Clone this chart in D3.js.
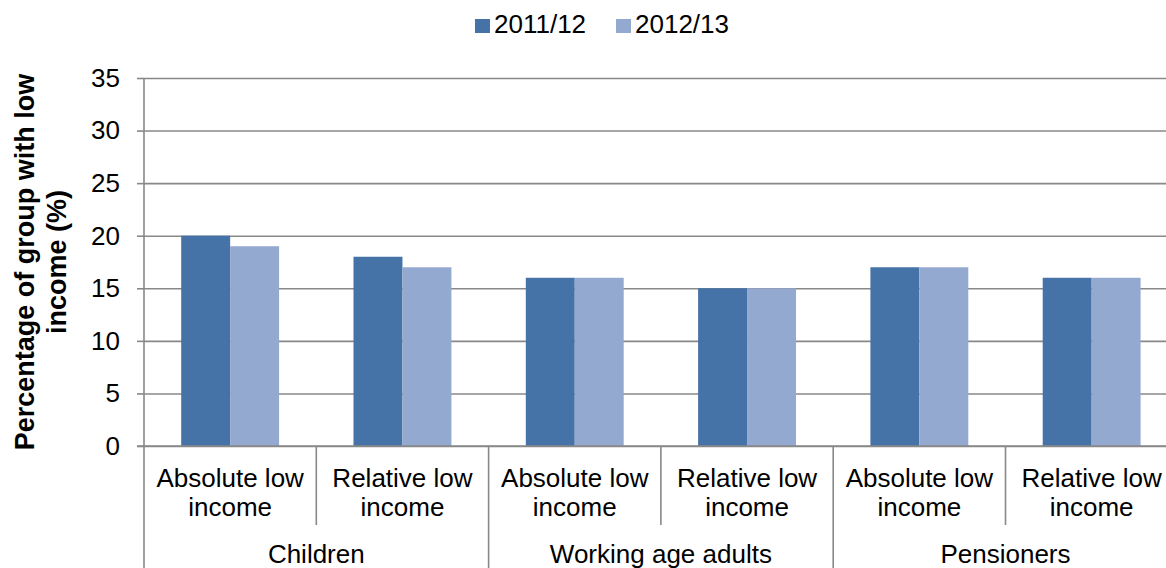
<!DOCTYPE html>
<html>
<head>
<meta charset="utf-8">
<script src="https://cdn.jsdelivr.net/npm/d3@7"></script>
<style>
  html, body { margin: 0; padding: 0; background: #fff; }
  svg { display: block; font-family: 'Liberation Sans', Arial, sans-serif; }
  .domain { display: none; }
</style>
</head>
<body>
<svg id="chart"></svg>
<script>
// data
const groups = ['Children', 'Working age adults', 'Pensioners']
const measures = ['Absolute low income', 'Relative low income']
const seriesNames = ['2011/12', '2012/13']
const values2011 = [20, 18, 16, 15, 17, 16]
const values2012 = [19, 17, 16, 15, 17, 16]
const yTicks = [0, 5, 10, 15, 20, 25, 30, 35]
const colors = ['#4573A7', '#94A9CF']

const width = 1166
const height = 568
const svg = d3.select('#chart').attr('width', width).attr('height', height)

const margin = { top: 78, left: 144 }
const plotBottom = 446
const step = 172.3
const cats = []
groups.forEach(g => measures.forEach(m => cats.push({ group: g, measure: m, key: g + '|' + m })))
cats.forEach((c, i) => { c.vals = [values2011[i], values2012[i]] })

const x0 = d3.scaleBand().domain(cats.map(c => c.key)).range([margin.left, margin.left + step * cats.length]).padding(0)
const x1 = d3.scaleBand().domain(seriesNames).range([0, x0.bandwidth()]).paddingInner(0).paddingOuter(0.76)
const y = d3.scaleLinear().domain([0, 35]).range([plotBottom, margin.top])

// gridlines
svg.append('g')
  .attr('transform', `translate(${margin.left},0)`)
  .call(d3.axisLeft(y).tickValues(yTicks).tickSize(-(width - margin.left)).tickFormat(''))
  .call(g => g.selectAll('.tick line').attr('stroke', '#888').attr('stroke-width', 1.6))

// y axis
svg.append('g')
  .attr('transform', `translate(${margin.left},0)`)
  .call(d3.axisLeft(y).tickValues(yTicks).tickSize(7).tickPadding(17))
  .call(g => g.selectAll('.tick line').attr('stroke', '#888').attr('stroke-width', 1.6))
  .call(g => g.selectAll('.tick text').attr('font-size', 26).attr('fill', '#000').attr('font-family', "'Liberation Sans', Arial, sans-serif"))

svg.append('line')
  .attr('x1', margin.left).attr('x2', margin.left)
  .attr('y1', margin.top).attr('y2', height)
  .attr('stroke', '#888').attr('stroke-width', 1.6)

// bars
const cg = svg.append('g').selectAll('g')
  .data(cats)
  .enter().append('g')
  .attr('transform', d => `translate(${x0(d.key)},0)`)

cg.selectAll('rect')
  .data(d => d.vals.map((v, i) => ({ s: seriesNames[i], v, i })))
  .enter().append('rect')
  .attr('x', d => x1(d.s))
  .attr('width', x1.bandwidth())
  .attr('y', d => y(d.v))
  .attr('height', d => y(0) - y(d.v))
  .attr('fill', d => colors[d.i])

// x axis line over bars
svg.append('line')
  .attr('x1', margin.left - 7).attr('x2', width)
  .attr('y1', plotBottom).attr('y2', plotBottom)
  .attr('stroke', '#888').attr('stroke-width', 1.6)

// category labels
const xa = svg.append('g')
  .attr('transform', `translate(0,${plotBottom})`)
  .call(d3.axisBottom(x0).tickSize(0).tickFormat(''))

xa.selectAll('.tick').each(function (k) {
  const c = cats.find(d => d.key === k)
  const t = d3.select(this).append('text')
    .attr('text-anchor', 'middle').attr('font-size', 26).attr('fill', '#000')
    .attr('font-family', "'Liberation Sans', Arial, sans-serif")
  const words = c.measure.split(' ')
  t.append('tspan').attr('x', 0).attr('y', 41).text(words.slice(0, 2).join(' '))
  t.append('tspan').attr('x', 0).attr('y', 70).text(words.slice(2).join(' '))
})

// separators
cats.forEach((c, i) => {
  if (i === 0) return
  const outer = i % measures.length === 0
  svg.append('line')
    .attr('x1', x0(c.key)).attr('x2', x0(c.key))
    .attr('y1', plotBottom).attr('y2', outer ? height : 525)
    .attr('stroke', '#888').attr('stroke-width', 1.6)
})

// group labels
groups.forEach(g => {
  const members = cats.filter(c => c.group === g)
  const a = x0(members[0].key)
  const b = x0(members[members.length - 1].key) + x0.bandwidth()
  svg.append('text')
    .attr('x', (a + b) / 2).attr('y', 563)
    .attr('text-anchor', 'middle').attr('font-size', 26)
    .text(g)
})

// y title
svg.append('text')
  .attr('transform', `translate(0,${(margin.top + plotBottom) / 2}) rotate(-90)`)
  .attr('text-anchor', 'middle').attr('font-size', 27).attr('font-weight', 'bold')
  .selectAll('tspan')
  .data(['Percentage of group with low', 'income (%)'])
  .enter().append('tspan')
  .attr('x', 0).attr('y', (d, i) => 34 + i * 32)
  .text(d => d)

// legend
const legend = svg.append('g')
const legendX = [475, 616]
seriesNames.forEach((s, i) => {
  legend.append('rect')
    .attr('x', legendX[i]).attr('y', 19).attr('width', 15).attr('height', 14)
    .attr('fill', colors[i])
  legend.append('text')
    .attr('x', legendX[i] + 19).attr('y', 33)
    .attr('font-size', 26)
    .text(s)
})
</script>
</body>
</html>
